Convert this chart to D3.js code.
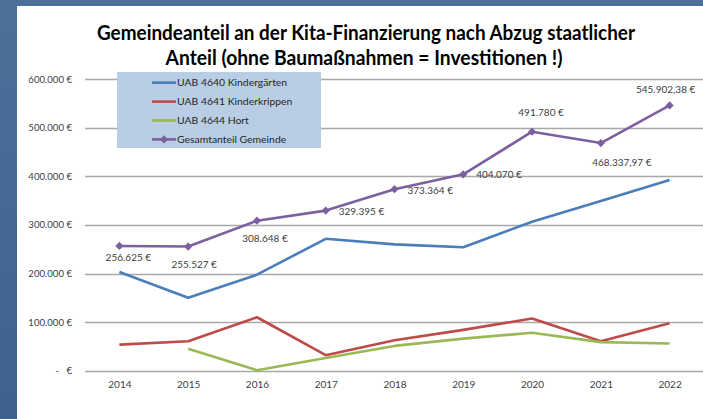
<!DOCTYPE html>
<html>
<head>
<meta charset="utf-8">
<script src="https://cdn.jsdelivr.net/npm/d3@7"></script>
<style>
  html, body { margin: 0; padding: 0; background: #44698f; }
  svg { display: block; }
  text { font-family: Lato, "Open Sans", sans-serif; }
</style>
</head>
<body>
<svg width="703" height="419"></svg>
<script>
// data
var years = ["2014", "2015", "2016", "2017", "2018", "2019", "2020", "2021", "2022"];
var kindergaerten = [203000, 150000, 197500, 271400, 259900, 254100, 306500, 349000, 392300];
var kinderkrippen = [53600, 60500, 110000, 32000, 62500, 84000, 107300, 60500, 97500];
var hort = [null, 45000, 1100, 26000, 51000, 66000, 78000, 58800, 56100];
var gesamt = [256625, 255527, 308648, 329395, 373364, 404070, 491780, 468337.97, 545902.38];
var gesamtLabels = ["256.625 €", "255.527 €", "308.648 €", "329.395 €", "373.364 €",
                    "404.070 €", "491.780 €", "468.337,97 €", "545.902,38 €"];
var yTicks = [0, 100000, 200000, 300000, 400000, 500000, 600000];
var yTickLabels = ["-\u00a0\u00a0\u00a0€", "100.000 €", "200.000 €", "300.000 €", "400.000 €", "500.000 €", "600.000 €"];
var seriesNames = ["UAB 4640 Kindergärten", "UAB 4641 Kinderkrippen", "UAB 4644 Hort", "Gesamtanteil Gemeinde"];

// label placement of the Gesamt values (dx, dy, anchor) as Excel put them
var labelPlace = [[9, 12, "middle"], [6, 18, "middle"], [8, 18, "middle"], [13, 1, "start"],
                  [13, 1, "start"], [13, 0, "start"], [9, -19, "middle"], [21, 19, "middle"],
                  [-4, -16, "middle"]];

var colors = ["#4a7ebb", "#be4b48", "#98b954", "#7d60a0"];

var svg = d3.select("svg");

// slide background + white chart panel
var defs = svg.append("defs");
var grad = defs.append("linearGradient").attr("id", "bg").attr("x1", 0).attr("y1", 0).attr("x2", 0).attr("y2", 1);
grad.append("stop").attr("offset", 0).attr("stop-color", "#4d7099");
grad.append("stop").attr("offset", 1).attr("stop-color", "#3d628c");
svg.append("rect").attr("width", 703).attr("height", 419).attr("fill", "url(#bg)");
svg.append("rect").attr("x", 17).attr("y", 6).attr("width", 686).attr("height", 413).attr("fill", "#fff");

var x = d3.scalePoint()
    .domain(years)
    .range([85, 704])
    .padding(0.5);

var y = d3.scaleLinear()
    .domain([0, 600000])
    .range([370.7, 79.1]);

// title
var title = svg.append("g")
    .attr("font-weight", "bold")
    .attr("font-size", "20px")
    .attr("fill", "#000")
    .attr("text-anchor", "middle");
title.append("text").attr("x", 366).attr("y", 40)
    .attr("textLength", 538).attr("lengthAdjust", "spacingAndGlyphs")
    .text("Gemeindeanteil an der Kita-Finanzierung nach Abzug staatlicher");
title.append("text").attr("x", 364).attr("y", 65)
    .attr("textLength", 397).attr("lengthAdjust", "spacingAndGlyphs")
    .text("Anteil (ohne Baumaßnahmen = Investitionen !)");

// gridlines
svg.append("g")
    .selectAll("line")
    .data(yTicks)
    .join("line")
    .attr("x1", 85).attr("x2", 703)
    .attr("y1", function (d) { return Math.round(y(d)) + 0.5; })
    .attr("y2", function (d) { return Math.round(y(d)) + 0.5; })
    .attr("stroke", "#a9a9a9")
    .attr("stroke-width", 1.4);

// y axis labels
var yAxis = d3.axisLeft(y)
    .tickValues(yTicks)
    .tickFormat(function (d, i) { return yTickLabels[i]; })
    .tickSize(0)
    .tickPadding(0);
svg.append("g")
    .attr("transform", "translate(72,0)")
    .call(yAxis)
    .call(function (g) {
        g.select(".domain").remove();
        g.selectAll("text").attr("font-family", "Lato, sans-serif").attr("font-size", "9.6px").attr("fill", "#404040");
    });

// x axis labels
var xAxis = d3.axisBottom(x).tickSize(0).tickPadding(0);
svg.append("g")
    .attr("transform", "translate(0,381)")
    .call(xAxis)
    .call(function (g) {
        g.select(".domain").remove();
        g.selectAll("text").attr("font-family", "Lato, sans-serif").attr("font-size", "10px").attr("fill", "#404040");
    });

// lines
var line = d3.line()
    .defined(function (d) { return d != null; })
    .x(function (d, i) { return x(years[i]); })
    .y(function (d) { return y(d); });

var allSeries = [kindergaerten, kinderkrippen, hort, gesamt];
svg.append("g")
    .selectAll("path")
    .data(allSeries)
    .join("path")
    .attr("d", function (d) { return line(d); })
    .attr("fill", "none")
    .attr("stroke", function (d, i) { return colors[i]; })
    .attr("stroke-width", 2.6)
    .attr("stroke-linejoin", "round");

// diamond markers on Gesamt
var diamond = d3.symbol().type(d3.symbolSquare).size(34);
svg.append("g")
    .selectAll("path")
    .data(gesamt)
    .join("path")
    .attr("transform", function (d, i) { return "translate(" + x(years[i]) + "," + y(d) + ") rotate(45)"; })
    .attr("d", diamond)
    .attr("fill", colors[3]);

// data labels
svg.append("g")
    .selectAll("text")
    .data(gesamt)
    .join("text")
    .attr("x", function (d, i) { return x(years[i]) + labelPlace[i][0]; })
    .attr("y", function (d, i) { return y(d) + labelPlace[i][1]; })
    .attr("dy", "0.35em")
    .attr("text-anchor", function (d, i) { return labelPlace[i][2]; })
    .attr("font-size", "10px")
    .attr("fill", "#404040")
    .text(function (d, i) { return gesamtLabels[i]; });

// legend
var legend = svg.append("g");
legend.append("rect")
    .attr("x", 117).attr("y", 72).attr("width", 204).attr("height", 76)
    .attr("fill", "#b9cde5");
var item = legend.selectAll("g")
    .data(seriesNames)
    .join("g")
    .attr("transform", function (d, i) { return "translate(0," + (82.7 + i * 18.9) + ")"; });
item.append("line")
    .attr("x1", 152).attr("x2", 176)
    .attr("stroke", function (d, i) { return colors[i]; })
    .attr("stroke-width", 2.6);
item.filter(function (d, i) { return i === 3; })
    .append("path")
    .attr("transform", "translate(164,0) rotate(45)")
    .attr("d", diamond)
    .attr("fill", colors[3]);
item.append("text")
    .attr("x", 177)
    .attr("dy", "0.35em")
    .attr("font-size", "10.4px")
    .attr("fill", "#262626")
    .text(function (d) { return d; });
</script>
</body>
</html>
